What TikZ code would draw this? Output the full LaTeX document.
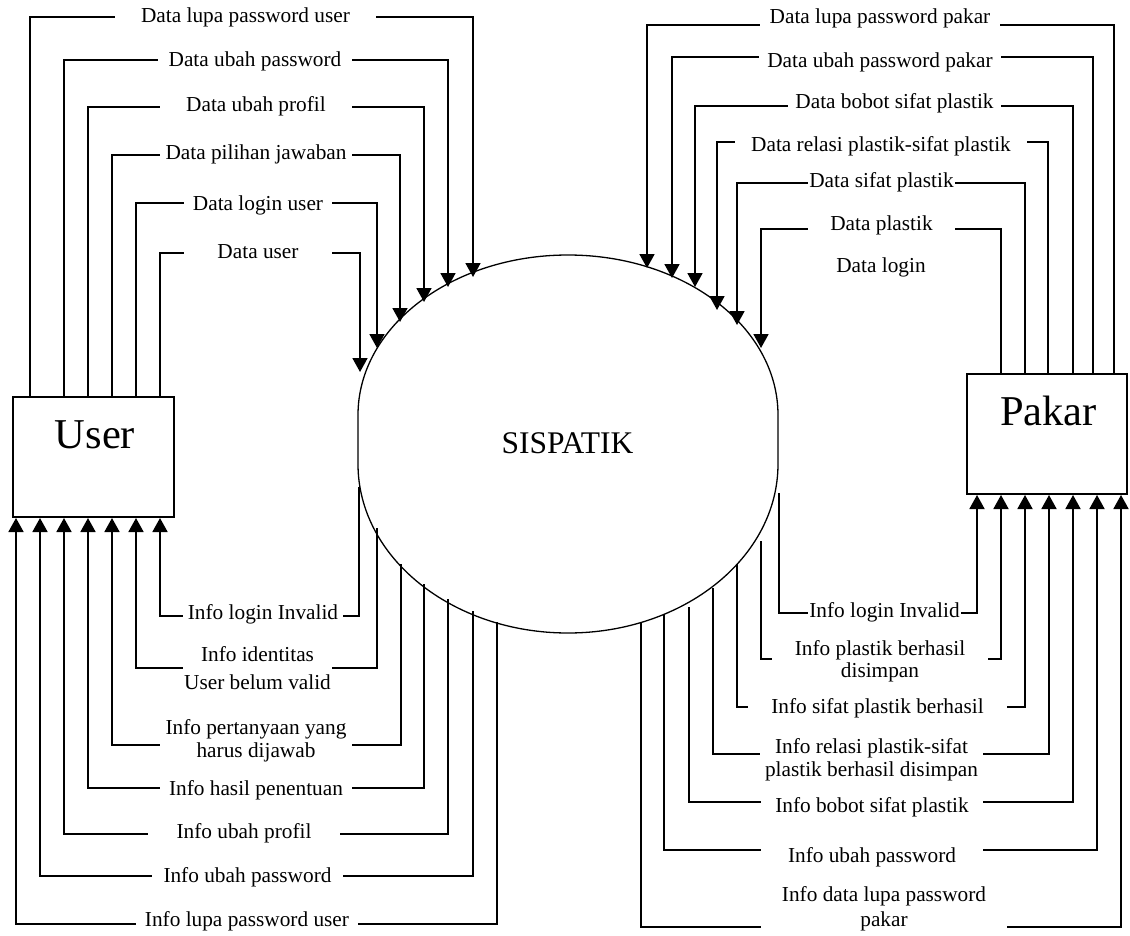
\documentclass[tikz,border=0pt]{standalone}
\usepackage{fontspec}
\setmainfont{Liberation Serif}
\usetikzlibrary{arrows.meta}
\newcommand\lblfont{\fontsize{21.3}{25.6}\selectfont}
\newcommand\entfont{\fontsize{42.5}{50}\selectfont}
\newcommand\procfont{\fontsize{31.5}{38}\selectfont}
\begin{document}
\begin{tikzpicture}[x=1pt,y=-1pt,
  lbl/.style={font=\lblfont, align=center, inner xsep=0pt, inner ysep=0pt},
  entity/.style={draw, line width=2pt, inner sep=0pt},
  flow/.style={line width=1.8pt},
  arr/.style={-{Triangle[width=15pt,length=14pt]}},
  procline/.style={line width=1.3pt}]

\fill[white] (0,0) rectangle (1130,935);
\useasboundingbox (0,0) rectangle (1130,935);

% external entities
\node[entity, minimum width=161pt, minimum height=120pt] (user) at (93.5,457) {};
\node[font=\entfont, anchor=base] (usertxt) at (95,448) {User};
\node[entity, minimum width=160pt, minimum height=120pt] (pakar) at (1047,434) {};
\node[font=\entfont, anchor=base] (pakartxt) at (1048.5,425) {Pakar};

% process
\draw[procline] (358,415) arc[start angle=180, end angle=360, x radius=210, y radius=160]
  -- (778,464) arc[start angle=0, end angle=180, x radius=210, y radius=169] -- cycle;
\node[font=\procfont, anchor=base] (sis) at (567.5,453) {SISPATIK};

% User -> SISPATIK
\foreach \i/\sx/\ly/\gx/\gw/\ty/\ex/\ey/\t in {
  1/30/17/245.5/261/17.5/473/277/{Data lupa password user},
  2/64/60/255/194/61/448/287/{Data ubah password},
  3/88/107/256/192/106/424/302/{Data ubah profil},
  4/112/155/256/192/154/400/322/{Data pilihan jawaban},
  5/136/203/258/148/205/377/348/{Data login user},
  6/160/253/258/148/253/360/372/{Data user}}{
  \node[lbl, minimum width=\gw pt] (tl\i) at (\gx,\ty) {\strut\t};
  \coordinate (tle\i) at (\ex,\ey);
  \draw[flow] (user.north -| \sx,0) |- (tl\i.west |- 0,\ly);
  \draw[flow,arr] (tl\i.east |- 0,\ly) -| (tle\i);
}

% Pakar -> SISPATIK
\foreach \i/\sx/\ly/\gx/\gw/\ty/\ex/\ey/\t in {
  1/1114/25/880/240/18/647/268/{Data lupa password pakar},
  2/1093/57/880/242/62/672/278/{Data ubah password pakar},
  3/1073/106/894.5/213/103/695/287/{Data bobot sifat plastik},
  4/1048/142/881/292/146/717/310/{Data relasi plastik-sifat plastik},
  5/1025/183/881.5/147/182/737/325/{Data sifat plastik},
  6/1001/229/881.5/147/225/761/348/{Data plastik}}{
  \node[lbl, minimum width=\gw pt] (tr\i) at (\gx,\ty) {\strut\t};
  \coordinate (tre\i) at (\ex,\ey);
  \draw[flow] (pakar.north -| \sx,0) |- (tr\i.east |- 0,\ly);
  \draw[flow,arr] (tr\i.west |- 0,\ly) -| (tre\i);
}
\node[lbl] (dlogin) at (881,267) {\strut Data login};

% SISPATIK -> User
\foreach \i/\sx/\sy/\ly/\gx/\gw/\ty/\ex/\t in {
  1/359/487/616/263/160/614/160/{\strut Info login Invalid},
  2/377/528/668/257.5/149/670/136/{\strut Info identitas\\[2.4pt]\strut User belum valid},
  3/401/564/745/256/192/740.5/112/{\strut Info pertanyaan yang\\[-2.6pt]\strut harus dijawab},
  4/424/584/788/256/192/790/88/{\strut Info hasil penentuan},
  5/448/599/834/244/192/833/64/{\strut Info ubah profil},
  6/473/611/876/247.5/191/877/40/{\strut Info ubah password},
  7/497/622/924/247/222/921/16/{\strut Info lupa password user}}{
  \node[lbl, minimum width=\gw pt] (bl\i) at (\gx,\ty) {\t};
  \coordinate (bls\i) at (\sx,\sy);
  \draw[flow] (bls\i) |- (bl\i.east |- 0,\ly);
  \draw[flow,arr] (bl\i.west |- 0,\ly) -| (user.south -| \ex,0);
}

% SISPATIK -> Pakar
\foreach \i/\sx/\sy/\ly/\gx/\gw/\ty/\ex/\t in {
  1/779/493/613/884.5/153/612/977/{\strut Info login Invalid},
  2/761/541/659/880/216/661/1001/{\strut Info plastik berhasil\\[-3.6pt]\strut disimpan},
  3/737/564/707/877.5/259/708/1025/{\strut Info sifat plastik berhasil},
  4/713/588/754/871.5/223/760/1049/{\strut Info relasi plastik-sifat\\[-2pt]\strut plastik berhasil disimpan},
  5/689/607/802/872/222/807/1073/{\strut Info bobot sifat plastik},
  6/664/614/850/872/222/857/1097/{\strut Info ubah password},
  7/641/623/927/884/246/909/1121/{\strut Info data lupa password\\[0pt]\strut pakar}}{
  \node[lbl, minimum width=\gw pt] (br\i) at (\gx,\ty) {\t};
  \coordinate (brs\i) at (\sx,\sy);
  \draw[flow] (brs\i) |- (br\i.west |- 0,\ly);
  \draw[flow,arr] (br\i.east |- 0,\ly) -| (pakar.south -| \ex,0);
}
\end{tikzpicture}
\end{document}
